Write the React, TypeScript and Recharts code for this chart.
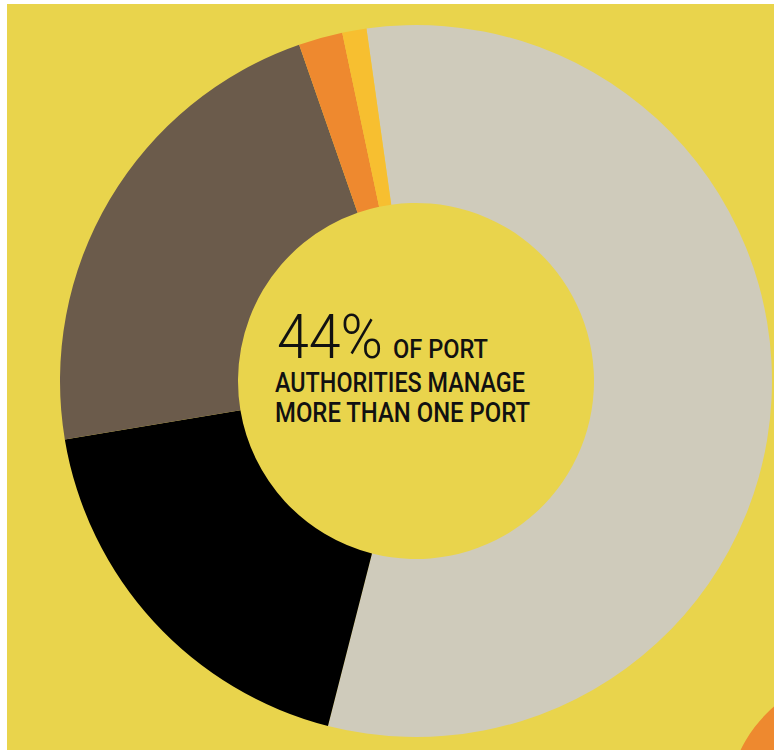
import React from 'react';
import { PieChart, Pie, Cell } from 'recharts';

const segments = ['More than one port', 'Category B', 'Category C', 'Category D', 'Category E'];
const shares = [56.2, 18.4, 22.3, 2.0, 1.1];
const colors = ['#CFCBBB', '#000000', '#6B5B4B', '#EE892F', '#F7BF30'];

// piece of the next chart peeking in at the bottom right corner
const nextShares = [1];

const data = segments.map((name, i) => ({ name, value: shares[i] }));
const nextData = nextShares.map((value, i) => ({ name: `next-${i}`, value }));

const BG = '#E9D44C';
const FONT = 'Roboto, "DejaVu Sans Condensed", Arial, sans-serif';

export default function App() {
  return (
    <div style={{ position: 'absolute', left: 7, top: 4, width: 767, height: 746, background: BG, overflow: 'hidden' }}>
      <PieChart width={767} height={746}>
        <Pie
          data={data}
          dataKey="value"
          cx={404}
          cy={372}
          innerRadius={178}
          outerRadius={356}
          startAngle={98}
          endAngle={-262}
          stroke="none"
          isAnimationActive={false}
        >
          {data.map((entry, index) => (
            <Cell key={`cell-${index}`} fill={colors[index]} />
          ))}
        </Pie>
        <Pie
          data={nextData}
          dataKey="value"
          cx={850}
          cy={800}
          innerRadius={0}
          outerRadius={135}
          stroke="none"
          fill="#EE892F"
          isAnimationActive={false}
        />
      </PieChart>
      <svg width={767} height={746} style={{ position: 'absolute', left: 0, top: 0, pointerEvents: 'none' }}>
        <text x={270} y={354} fontFamily={FONT} fontSize={62} fontWeight={300} fill="#111" textLength={106} lengthAdjust="spacingAndGlyphs">
          44%
        </text>
        <text x={386} y={354} fontFamily={FONT} fontSize={25} fontWeight={500} fill="#111" textLength={95} lengthAdjust="spacingAndGlyphs">
          OF PORT
        </text>
        <text x={268} y={388} fontFamily={FONT} fontSize={27} fontWeight={500} fill="#111" textLength={250} lengthAdjust="spacingAndGlyphs">
          AUTHORITIES MANAGE
        </text>
        <text x={268} y={418} fontFamily={FONT} fontSize={27} fontWeight={500} fill="#111" textLength={255} lengthAdjust="spacingAndGlyphs">
          MORE THAN ONE PORT
        </text>
      </svg>
    </div>
  );
}
